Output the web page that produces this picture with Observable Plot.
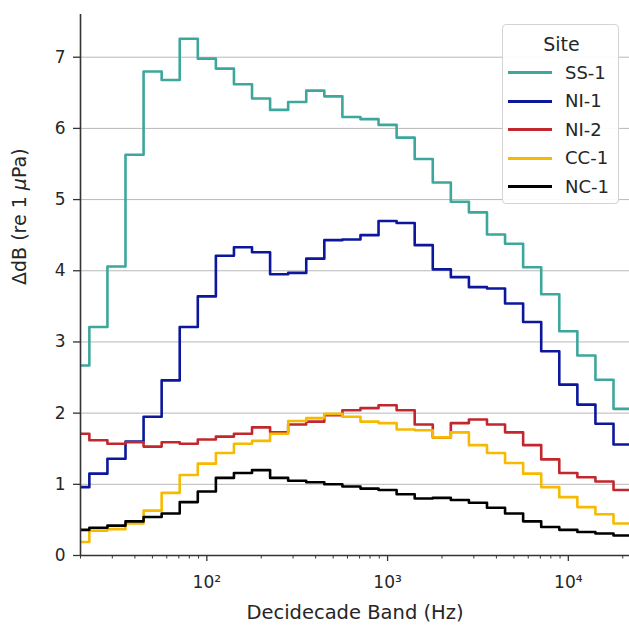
<!DOCTYPE html>
<html>
<head>
<meta charset="utf-8">
<script src="https://cdn.jsdelivr.net/npm/d3@7"></script>
<script src="https://cdn.jsdelivr.net/npm/@observablehq/plot@0.6"></script>
<style>
  html, body { margin: 0; padding: 0; background: white; }
  #wrap { position: relative; width: 629px; height: 630px; font-family: "DejaVu Sans", sans-serif; color: #262626; }
  #legend { position: absolute; left: 502px; top: 24px; width: 117px; height: 180px; border: 1px solid #d3d3d3; border-radius: 4px; background: rgba(255,255,255,0.92); box-sizing: border-box; }
  #legend .title { position: absolute; left: 0; width: 117px; top: 7px; text-align: center; font-size: 19px; line-height: 24px; }
  #legend .row { position: absolute; left: 0; height: 24px; width: 117px; }
  #legend .sw { position: absolute; left: 5px; top: 10.5px; width: 44px; height: 3px; }
  #legend .lab { position: absolute; left: 62px; top: 0; font-size: 18px; line-height: 24px; }
</style>
</head>
<body>
<div id="wrap"></div>
<script>
// Decidecade band centre frequencies (Hz)
const bands = [20, 25, 31.5, 40, 50, 63, 80, 100, 125, 160, 200, 250, 315, 400, 500, 630, 800, 1000, 1250, 1600, 2000, 2500, 3150, 4000, 5000, 6300, 8000, 10000, 12500, 16000, 20000];
const sites = ["SS-1", "NI-1", "NI-2", "CC-1", "NC-1"];
const colors = ["#3ea79c", "#0c179c", "#c1272d", "#f6ba00", "#000000"];

const ss1 = [2.67, 3.21, 4.06, 5.63, 6.80, 6.68, 7.26, 6.98, 6.84, 6.62, 6.42, 6.26, 6.37, 6.53, 6.45, 6.16, 6.13, 6.05, 5.87, 5.57, 5.24, 4.97, 4.82, 4.51, 4.38, 4.05, 3.67, 3.15, 2.81, 2.47, 2.06];
const ni1 = [0.96, 1.15, 1.36, 1.60, 1.95, 2.46, 3.21, 3.64, 4.21, 4.33, 4.26, 3.95, 3.97, 4.17, 4.43, 4.44, 4.50, 4.70, 4.67, 4.36, 4.02, 3.91, 3.77, 3.75, 3.54, 3.28, 2.87, 2.40, 2.12, 1.85, 1.56];
const ni2 = [1.71, 1.62, 1.57, 1.59, 1.53, 1.59, 1.57, 1.63, 1.67, 1.71, 1.80, 1.73, 1.84, 1.88, 1.97, 2.04, 2.07, 2.11, 2.04, 1.84, 1.66, 1.86, 1.91, 1.84, 1.73, 1.55, 1.35, 1.16, 1.10, 1.04, 0.92];
const cc1 = [0.19, 0.35, 0.37, 0.45, 0.63, 0.88, 1.13, 1.29, 1.44, 1.57, 1.61, 1.71, 1.89, 1.93, 1.99, 1.95, 1.88, 1.86, 1.77, 1.76, 1.66, 1.73, 1.55, 1.44, 1.30, 1.15, 0.96, 0.82, 0.68, 0.58, 0.45];
const nc1 = [0.36, 0.39, 0.42, 0.48, 0.54, 0.59, 0.75, 0.90, 1.09, 1.16, 1.20, 1.09, 1.05, 1.03, 1.00, 0.97, 0.94, 0.92, 0.86, 0.80, 0.81, 0.78, 0.74, 0.67, 0.59, 0.48, 0.40, 0.36, 0.33, 0.31, 0.28];

const yTicks = [0, 1, 2, 3, 4, 5, 6, 7];
const xMajor = [100, 1000, 10000];
const xMajorLabels = ["10²", "10³", "10⁴"];

const series = [ss1, ni1, ni2, cc1, nc1];
const rows = [];
sites.forEach((s, k) => {
  bands.forEach((f, i) => {
    const n = Math.round(10 * Math.log10(f));
    rows.push({site: s, f: Math.pow(10, (n - 0.5) / 10), v: series[k][i]});
    rows.push({site: s, f: Math.pow(10, (n + 0.5) / 10), v: series[k][i]});
  });
});

const xDomain = [20, 21800];
const minor = [];
for (const dec of [10, 100, 1000, 10000]) for (let m = 2; m <= 9; m++) {
  const v = m * dec; if (v >= xDomain[0] && v <= xDomain[1]) minor.push(v);
}

const chart = Plot.plot({
  width: 629, height: 630,
  marginLeft: 80, marginRight: 0, marginTop: 14, marginBottom: 75,
  x: {type: "log", domain: xDomain},
  y: {domain: [0, 7.6]},
  color: {domain: sites, range: colors},
  style: {fontFamily: "DejaVu Sans, sans-serif", fontSize: "17px", color: "#262626", background: "white", overflow: "visible"},
  marks: [
    Plot.gridY(yTicks.filter(d => d > 0), {stroke: "#b8b8b8", strokeOpacity: 1, strokeWidth: 1}),
    Plot.line(rows, {x: "f", y: "v", z: "site", stroke: "site", strokeWidth: 2.6, clip: true}),
    Plot.axisY(yTicks, {tickSize: 7, tickPadding: 8, label: null, stroke: "#333", strokeWidth: 1.3, fontSize: 17,
      tickFormat: d => String(d)}),
    Plot.axisX(xMajor, {tickSize: 6, tickPadding: 14, label: null, stroke: "#333", strokeWidth: 1.3, fontSize: 17,
      tickFormat: d => xMajorLabels[xMajor.indexOf(d)]}),
    Plot.axisX(minor, {tickSize: 3.5, label: null, stroke: "#333", strokeWidth: 1, tickFormat: () => ""}),
    Plot.ruleX([xDomain[0]], {stroke: "#333", strokeWidth: 1.6}),
    Plot.ruleY([0], {stroke: "#333", strokeWidth: 1.6}),
    Plot.text(["Decidecade Band (Hz)"], {frameAnchor: "bottom", dy: 63, fontSize: 19.5, fill: "#262626"}),
    Plot.text(["ΔdB (re 1 μPa)"], {frameAnchor: "left", dx: -61, rotate: -90, fontSize: 19, fill: "#262626"})
  ]
});

const wrap = document.getElementById("wrap");
wrap.appendChild(chart);

// italic mu in the y label
d3.select(chart).selectAll("text").each(function() {
  const t = d3.select(this);
  if (t.text() === "ΔdB (re 1 μPa)") {
    t.text(null);
    t.append("tspan").text("ΔdB (re 1 ");
    t.append("tspan").attr("font-style", "italic").text("μ");
    t.append("tspan").text("Pa)");
  }
});

// legend
const leg = document.createElement("div");
leg.id = "legend";
const title = document.createElement("div");
title.className = "title"; title.textContent = "Site";
leg.appendChild(title);
sites.forEach((s, i) => {
  const r = document.createElement("div");
  r.className = "row";
  r.style.top = (35.5 + i * 28.6) + "px";
  const sw = document.createElement("div");
  sw.className = "sw"; sw.style.background = colors[i];
  const lab = document.createElement("div");
  lab.className = "lab"; lab.textContent = s;
  r.appendChild(sw); r.appendChild(lab);
  leg.appendChild(r);
});
wrap.appendChild(leg);
</script>
</body>
</html>
